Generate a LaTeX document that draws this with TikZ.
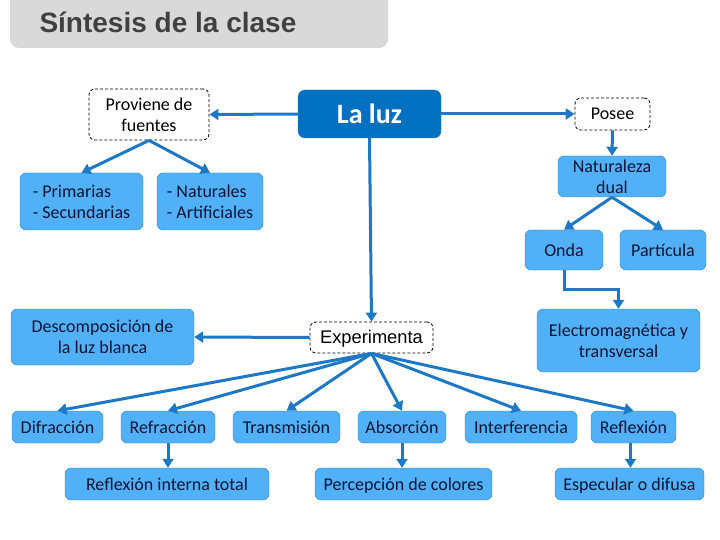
\documentclass[tikz,border=0pt]{standalone}
\usepackage{fontspec}
\setmainfont{Carlito}
\newfontfamily\arialfam{Liberation Sans}
\usepackage{xcolor}
\usepackage{tikz}
\usetikzlibrary{arrows.meta,positioning}
\definecolor{azulescuro}{RGB}{0,112,192}
\definecolor{azulclaro}{RGB}{80,176,248}
\definecolor{azulborda}{RGB}{42,130,208}
\definecolor{azulseta}{RGB}{30,120,200}
\definecolor{azultexto}{RGB}{10,20,52}
\definecolor{cinzatitulo}{RGB}{217,217,217}
\definecolor{cinzatexto}{RGB}{64,64,64}
\tikzset{
  caixa/.style={rectangle,rounded corners=6pt,draw=azulborda,fill=azulclaro,
    text=azultexto,align=center,inner sep=2pt,
    font=\fontsize{18}{21}\selectfont},
  linha/.style={text height=15pt,text depth=3pt},
  tracejada/.style={rectangle,rounded corners=6pt,draw=black,line width=0.8pt,
    dash pattern=on 3pt off 2pt,fill=white,
    align=center,inner sep=2pt,font=\fontsize{18}{21}\selectfont},
  principal/.style={rectangle,rounded corners=7pt,draw=azulborda,fill=azulescuro,
    text=white,font=\fontsize{28}{30}\selectfont\bfseries},
  seta/.style={-{Triangle[length=9pt,width=11pt]},line width=3pt,azulseta}
}
\begin{document}
\begin{tikzpicture}[x=1pt,y=-1pt]
  \useasboundingbox (0,0) rectangle (720,540);
  \fill[cinzatitulo,rounded corners=9pt] (10,-12) rectangle (388,48);
  \node[anchor=west,text=cinzatexto,font=\arialfam\fontsize{28}{30}\selectfont\bfseries]
    (titulo) at (36,22) {Síntesis de la clase};

  \node[principal,minimum width=143pt,minimum height=48pt] (luz) at (369.5,114) {La luz};
  \node[tracejada,minimum width=120pt,minimum height=51pt] (proviene) at (149,114.5)
    {Proviene de\\fuentes};
  \node[tracejada,linha,minimum width=75pt,minimum height=32pt] (posee) at (612.5,114) {Posee};
  \node[caixa,minimum width=108pt,minimum height=41pt] (natureza) at (612,176.5)
    {Naturaleza\\dual};
  \node[caixa,linha,minimum width=78pt,minimum height=40pt] (onda) at (564,250) {Onda};
  \node[caixa,linha,minimum width=86pt,minimum height=40pt] (particula) at (663,250) {Partícula};
  \node[caixa,minimum width=163pt,minimum height=63pt] (electro) at (618.5,340.5)
    {Electromagnética y\\transversal};
  \node[caixa,minimum width=123pt,minimum height=57pt,align=left] (primarias) at (81.5,201.5)
    {- Primarias\\- Secundarias};
  \node[caixa,minimum width=106pt,minimum height=57pt,align=left] (naturales) at (210,201.5)
    {- Naturales\\- Artificiales};
  \node[caixa,minimum width=183pt,minimum height=56pt] (descomp) at (102.5,337)
    {Descomposición de\\la luz blanca};
  \node[tracejada,linha,minimum width=123pt,minimum height=31pt,
    font=\arialfam\fontsize{18.3}{20}\selectfont] (experimenta) at (371.5,337.5) {Experimenta};

  \foreach \nome/\x/\w/\txt in {difr/57.5/91/Difracción,refr/168/94/Refracción,
      trans/286.5/107/Transmisión,absor/402/88/Absorción,
      inter/521/112/Interferencia,refl/633.5/85/Reflexión}
    {\node[caixa,linha,minimum width=\w pt,minimum height=32pt] (\nome) at (\x,427) {\txt};
     \draw[seta] (experimenta.south) -- (\nome.north);}

  \node[caixa,linha,minimum width=204pt,minimum height=32pt] (total) at (167,484)
    {Reflexión interna total};
  \node[caixa,linha,minimum width=177pt,minimum height=32pt] (colores) at (403.5,484)
    {Percepción de colores};
  \node[caixa,linha,minimum width=149pt,minimum height=32pt] (especular) at (629.5,484)
    {Especular o difusa};

  \draw[seta] (luz.west) -- (proviene.east);
  \draw[seta] (luz.east) -- (posee.west);
  \draw[seta] (luz.south) -- (experimenta.north);
  \draw[seta] (proviene.south) -- (primarias.north);
  \draw[seta] (proviene.south) -- (naturales.north);
  \draw[seta] (posee.south) -- (natureza.north);
  \draw[seta] (natureza.south) -- (onda.north);
  \draw[seta] (natureza.south) -- (particula.north);
  \draw[seta] (onda.south) -- ++(0,19) -| (electro.north);
  \draw[seta] (experimenta.west) -- (descomp.east);
  \draw[seta] (refr.south) -- (refr.south |- total.north);
  \draw[seta] (absor.south) -- (absor.south |- colores.north);
  \draw[seta] ([xshift=-3pt]refl.south) -- ([xshift=-3pt]refl.south |- especular.north);
\end{tikzpicture}
\end{document}
